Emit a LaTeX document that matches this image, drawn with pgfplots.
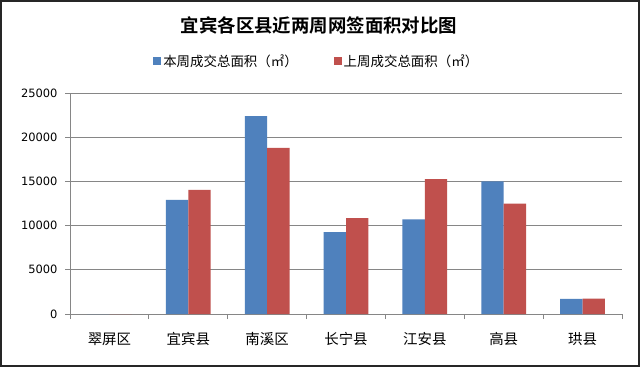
\documentclass[border=0pt]{standalone}
\usepackage{fontspec}
\setmainfont{DejaVu Sans}
\newfontfamily\cjk{Noto Sans CJK SC}
\newfontfamily\cjkb{Noto Sans CJK SC Bold}
\usepackage{pgfplots}
\pgfplotsset{compat=1.18}
\definecolor{cblue}{RGB}{79,129,189}
\definecolor{cred}{RGB}{192,80,77}
\definecolor{gridc}{RGB}{134,134,134}
\begin{document}
\begin{tikzpicture}[x=1bp,y=1bp]
\fill[white] (0,0) rectangle (640,367);
\draw[line width=2.5bp,black!85] (1.2,1.2) rectangle (638.8,365.8);
\node[font={\cjkb\fontsize{18.5}{22}\selectfont}] at (319,342) {宜宾各区县近两周网签面积对比图};
\begin{axis}[
  at={(70bp,53bp)}, anchor=south west,
  scale only axis, width=552bp, height=221bp,
  ymin=0, ymax=25000, ytick={0,5000,...,25000},
  xmin=-0.5, xmax=6.5,
  xtick={0,...,6},
  xticklabels={翠屏区,宜宾县,南溪区,长宁县,江安县,高县,珙县},
  x tick label style={font={\cjk\fontsize{14.5}{16}\selectfont}, yshift=-10bp},
  y tick label style={font=\fontsize{11.5}{13}\selectfont, xshift=-4bp},
  /pgf/number format/assume math mode=true,
  scaled y ticks=false,
  yticklabel style={/pgf/number format/1000 sep={}},
  major x tick style={draw=none},
  minor xtick={-0.5,0.5,...,6.5},
  minor tick length=5bp,
  major tick length=5bp,
  tick align=outside,
  axis x line*=bottom, axis y line*=left,
  axis line style={gridc, line width=0.8bp},
  tick style={gridc, line width=0.8bp},
  ymajorgrids, grid style={gridc, line width=0.8bp},
  ybar=0pt, bar width=22.4bp,
  legend columns=2,
  legend style={at={(0.447,1.145)}, anchor=center, draw=none, fill=none,
    font={\cjk\fontsize{13.5}{15}\selectfont},
    /tikz/every even column/.append style={column sep=34bp}},
  legend image code/.code={\fill[#1] (0bp,-4bp) rectangle (8bp,4bp);},
]
\addplot[fill=cblue, draw=none] coordinates {(0,0) (1,12900) (2,22400) (3,9250) (4,10700) (5,15000) (6,1700)};
\addplot[fill=cred, draw=none] coordinates {(0,0) (1,14050) (2,18800) (3,10850) (4,15250) (5,12500) (6,1750)};
\legend{本周成交总面积（㎡）,上周成交总面积（㎡）}
\end{axis}
\end{tikzpicture}
\end{document}
